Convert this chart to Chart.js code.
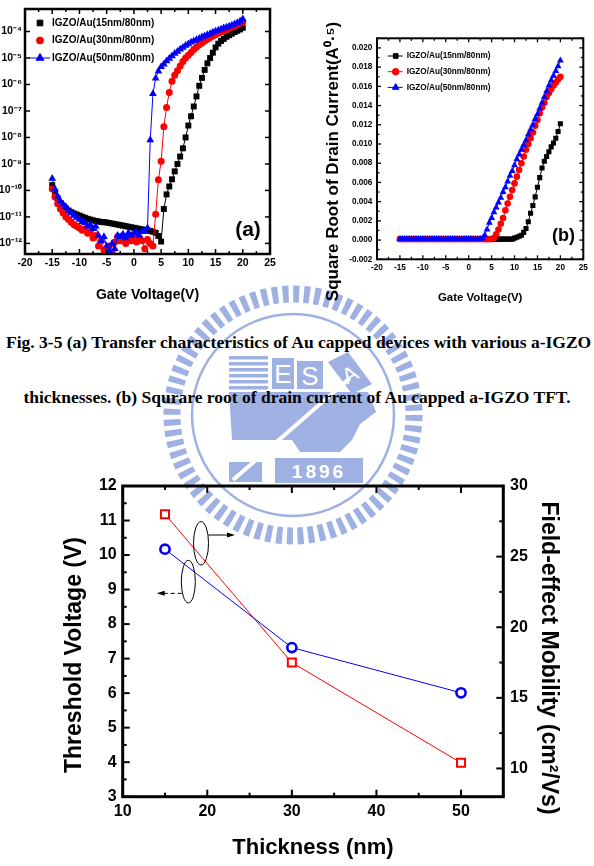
<!DOCTYPE html>
<html><head><meta charset="utf-8">
<script src="https://cdn.jsdelivr.net/npm/chart.js@4.4.1/dist/chart.umd.min.js"></script>
<style>
html,body{margin:0;padding:0;background:#fff;}
#page{position:relative;width:594px;height:866px;overflow:hidden;background:#fff;}
#wm{position:absolute;left:0;top:0;z-index:0}
canvas{position:absolute;z-index:1}
.cap{position:absolute;z-index:2;font-family:'Liberation Serif','Times New Roman',serif;font-weight:bold;font-size:17.5px;line-height:20px;white-space:nowrap;color:#000}
</style></head>
<body>
<div id="page">
<svg id="wm" width="594" height="866">
  <g transform="translate(293,415)" fill="none" stroke="#9fb1e2">
    <circle r="121" stroke-width="17" stroke-dasharray="6 4.559"/>
    <circle r="101" stroke-width="2.5"/>
  </g>
  <g fill="#9fb1e2">
    <rect x="229" y="356" width="39" height="3.5"/>
    <rect x="229" y="362" width="39" height="3.5"/>
    <rect x="229" y="368" width="39" height="3.5"/>
    <rect x="229" y="374" width="39" height="3.5"/>
    <rect x="229" y="380" width="39" height="3.5"/>
    <rect x="229" y="386" width="39" height="3.5"/>
    <rect x="272" y="358" width="22" height="31"/>
    <rect x="297" y="361" width="26" height="28"/>
    <polygon points="328,362 348,352 372,384 352,394"/>
    <polygon points="229,392 368,392 376,412 360,424 352,440 340,452 300,452 292,440 232,440"/>
    <polygon points="229,462 262,462 262,482 229,482"/>
    <rect x="275" y="458" width="88" height="25"/>
    <line x1="233" y1="480" x2="350" y2="378" stroke="#fff" stroke-width="4"/>
  </g>
  <g fill="#fff" font-family="Arial, sans-serif" text-anchor="middle">
    <text x="283" y="383" font-size="26">E</text>
    <text x="310" y="385" font-size="26">S</text>
    <text x="350" y="382" font-size="22" transform="rotate(-30 350 375)">A</text>
    <text x="319" y="478" font-size="19" font-weight="bold" letter-spacing="3">1896</text>
  </g>
</svg>
<canvas id="cA" width="300" height="310" style="left:0;top:0"></canvas>
<canvas id="cB" width="294" height="310" style="left:300px;top:0"></canvas>
<div class="cap" style="left:6px;top:332px">Fig. 3-5 (a) Transfer characteristics of Au capped devices with various a-IGZO</div>
<div class="cap" style="left:0;width:594px;text-align:center;top:387px">thicknesses. (b) Squrare root of drain current of Au capped a-IGZO TFT.</div>
<canvas id="cC" width="594" height="406" style="left:0;top:460px"></canvas>
</div>
<script>
// ---------------- data ----------------
const seriesNames = ['IGZO/Au(15nm/80nm)', 'IGZO/Au(30nm/80nm)', 'IGZO/Au(50nm/80nm)'];
const gateV = [-15,-14.5,-14,-13.5,-13,-12.5,-12,-11.5,-11,-10.5,-10,-9.5,-9,-8.5,-8,-7.5,-7,-6.5,-6,-5.5,-5,-4.5,-4,-3.5,-3,-2.5,-2,-1.5,-1,-0.5,0,0.5,1,1.5,2,2.5,3,3.5,4,4.5,5,5.5,6,6.5,7,7.5,8,8.5,9,9.5,10,10.5,11,11.5,12,12.5,13,13.5,14,14.5,15,15.5,16,16.5,17,17.5,18,18.5,19,19.5,20];
// (a) log10 of drain current (A)
const logId15 = [-9.8,-10.1,-10.3,-10.48,-10.6,-10.68,-10.76,-10.82,-10.87,-10.91,-10.95,-10.99,-11.03,-11.07,-11.1,-11.13,-11.15,-11.17,-11.19,-11.2,-11.21,-11.23,-11.25,-11.27,-11.29,-11.31,-11.33,-11.35,-11.37,-11.39,-11.41,-11.43,-11.45,-11.47,-11.49,-11.51,-11.53,-11.56,-11.6,-11.72,-11.93,
  -10.7,-10.15,-9.85,-9.58,-9.28,-9.0,-8.72,-8.41,-8.0,-7.55,-7.2,-6.83,-6.45,-6.05,-5.75,-5.45,-5.2,-5.0,-4.8,-4.6,-4.46,-4.36,-4.28,-4.2,-4.14,-4.08,-4.02,-3.97,-3.92,-3.86];
const logId30 = [-9.95,-10.25,-10.5,-10.7,-10.85,-11.0,-11.1,-11.2,-11.3,-11.35,-11.42,-11.5,-11.45,-11.62,-11.55,-11.8,-11.7,-12.1,-11.9,-12.25,-12.4,-12.1,-12.35,-11.95,-11.75,-11.9,-11.8,-12.0,-11.78,-11.9,-11.7,-11.95,-11.8,-11.9,-12.2,-11.85,-12.0,-12.1,
  -10.9,-9.6,-8.9,-7.6,-6.87,-6.3,-5.88,-5.65,-5.48,-5.3,-5.13,-5.0,-4.9,-4.79,-4.68,-4.59,-4.5,-4.43,-4.36,-4.29,-4.23,-4.17,-4.12,-4.07,-4.02,-3.97,-3.93,-3.88,-3.84,-3.79,-3.74,-3.69,-3.64];
const logId50 = [-9.55,-9.95,-10.22,-10.4,-10.52,-10.62,-10.75,-10.85,-10.95,-11.02,-11.1,-11.18,-11.22,-11.35,-11.3,-11.45,-11.35,-11.7,-11.9,-11.75,-12.1,-12.3,-12.0,-12.2,-11.7,-11.75,-11.65,-11.8,-11.6,-11.7,-11.62,-11.58,-11.7,-11.55,-11.55,-11.42,
  -8.1,-6.35,-5.76,-5.5,-5.33,-5.24,-5.11,-5.02,-4.92,-4.83,-4.75,-4.67,-4.6,-4.53,-4.47,-4.41,-4.36,-4.31,-4.26,-4.21,-4.17,-4.12,-4.08,-4.03,-3.99,-3.95,-3.91,-3.87,-3.84,-3.8,-3.76,-3.72,-3.67,-3.61,-3.53];
// (b) square root of drain current (A^0.5)
const sqrtId15 = [0.0001,0.0001,0.0001,0.0001,0.0001,0.0001,0.0001,0.0001,0.0001,0.0001,0.0001,0.0001,0.0001,0.0001,0.0001,0.0001,0.0001,0.0001,0.0001,0.0001,0.0001,0.0001,0.0001,0.0001,0.0001,0.0001,0.0001,0.0001,0.0001,0.0001,0.0001,0.0001,0.0001,0.0001,0.0001,0.0001,0.0001,0.0001,0.0001,0.0001,0.0001,0.0001,0.0001,0.0001,0.0001,0.0001,0.0001,0.0001,
  0.0001,0.0001,0.0002,0.0003,0.0004,0.0005,0.0008,0.0012,0.0019,0.0028,0.0036,0.0045,0.0055,0.0065,0.0075,0.0082,0.0087,0.0092,0.0097,0.0101,0.0106,0.0113,0.0121];
const sqrtId30 = [0.0001,0.0001,0.0001,0.0001,0.0001,0.0001,0.0001,0.0001,0.0001,0.0001,0.0001,0.0001,0.0001,0.0001,0.0001,0.0001,0.0001,0.0001,0.0001,0.0001,0.0001,0.0001,0.0001,0.0001,0.0001,0.0001,0.0001,0.0001,0.0001,0.0001,0.0001,0.0001,0.0001,0.0001,0.0001,0.0001,0.0001,0.0001,0.0001,0.0001,
  0.0001,0.0002,0.0006,0.0011,0.0017,0.0023,0.0031,0.0038,0.0045,0.0052,0.0059,0.0066,0.0073,0.008,0.0087,0.0094,0.01,0.0106,0.0112,0.0119,0.0125,0.0132,0.0138,0.0143,0.0149,0.0153,0.0157,0.0161,0.0164,0.0167,0.017];
const sqrtId50 = [0.0001,0.0001,0.0001,0.0001,0.0001,0.0001,0.0001,0.0001,0.0001,0.0001,0.0001,0.0001,0.0001,0.0001,0.0001,0.0001,0.0001,0.0001,0.0001,0.0001,0.0001,0.0001,0.0001,0.0001,0.0001,0.0001,0.0001,0.0001,0.0001,0.0001,0.0001,0.0001,0.0001,0.0001,0.0001,0.0001,
  0.0002,0.0005,0.0011,0.0018,0.0023,0.0029,0.0034,0.0039,0.0044,0.005,0.0055,0.0061,0.0067,0.0072,0.0078,0.0084,0.0089,0.0094,0.0099,0.0104,0.011,0.0115,0.012,0.0126,0.0131,0.0137,0.0143,0.0149,0.0155,0.0161,0.0166,0.0171,0.0176,0.0181,0.0187];
const gateTicks = [-20,-15,-10,-5,0,5,10,15,20,25];
const logTicks = [-12,-11,-10,-9,-8,-7,-6,-5,-4];
const sqrtTicks = [-0.002,0,0.002,0.004,0.006,0.008,0.010,0.012,0.014,0.016,0.018,0.020];
// (c) threshold voltage and mobility vs IGZO thickness
const thickness = [15, 30, 50];
const thresholdV = [10.17, 7.32, 6.01];
const mobility = [28.0, 17.5, 10.4];
const thickTicks = [10, 20, 30, 40, 50];
const vthTicks = [3, 4, 5, 6, 7, 8, 9, 10, 11, 12];
const mobTicks = [10, 15, 20, 25, 30];

// ---------------- helpers ----------------
Chart.defaults.font.family = "Arial, 'Liberation Sans', sans-serif";
Chart.defaults.font.weight = 'bold';
Chart.defaults.color = '#000';
const SUP = {'-':'⁻','0':'⁰','1':'¹','2':'²','3':'³','4':'⁴','5':'⁵','6':'⁶','7':'⁷','8':'⁸','9':'⁹'};
const sup = s => String(s).split('').map(c => SUP[c] || c).join('');
const pts = (xs, ys) => xs.map((x, i) => ({x: x, y: ys[i]}));
const zeroPad = s => { s.paddingTop = 0; s.paddingBottom = 0; s.paddingLeft = 0; s.paddingRight = 0; };
const fitW = w => s => { s.width = w; zeroPad(s); };
const fitH = h => s => { s.height = h; zeroPad(s); };
const setTicks = arr => s => { s.ticks = arr.map(v => ({value: v})); };
function hasFont(name) {
  const c = document.createElement('canvas').getContext('2d');
  const t = 'IGZO/Au(15nm/80nm) 0.012 Gate';
  c.font = '20px monospace'; const w0 = c.measureText(t).width;
  c.font = '20px "' + name + '", monospace'; return Math.abs(c.measureText(t).width - w0) > 0.5;
}
const narrowName = hasFont('Liberation Sans Narrow') ? 'Liberation Sans Narrow' : (hasFont('Arial Narrow') ? 'Arial Narrow' : null);
const NARROW = narrowName ? "'" + narrowName + "', Arial, sans-serif" : "Arial, 'Liberation Sans', sans-serif";
const NK = narrowName ? 1 : 0.82;
const BOLD = 'bold';
const tf = (size, family) => () => ({size: size, weight: BOLD, family: family || "Arial, 'Liberation Sans', sans-serif", lineHeight: 1.2, style: 'normal'});

const framePlugin = {
  id: 'frame',
  afterDatasetsDraw(chart, args, o) {
    const ctx = chart.ctx, a = chart.chartArea;
    ctx.save();
    ctx.strokeStyle = '#000';
    ctx.lineWidth = o.tickWidth || 1.5;
    (o.axes || []).forEach(ax => {
      const sc = chart.scales[ax.id];
      const majors = sc.ticks.map(t => t.value);
      const items = majors.map(v => [v, ax.major]);
      if (ax.minorStep) {
        const n0 = Math.ceil(sc.min / ax.minorStep - 1e-6), n1 = Math.floor(sc.max / ax.minorStep + 1e-6);
        for (let n = n0; n <= n1; n++) {
          const v = n * ax.minorStep;
          if (!majors.some(m => Math.abs(m - v) < 1e-9)) items.push([v, ax.minor]);
        }
      }
      items.forEach(([v, len]) => {
        const p = sc.getPixelForValue(v);
        ax.sides.forEach(side => {
          ctx.beginPath();
          if (side === 'bottom') { ctx.moveTo(p, a.bottom); ctx.lineTo(p, a.bottom - len); }
          if (side === 'top') { ctx.moveTo(p, a.top); ctx.lineTo(p, a.top + len); }
          if (side === 'left') { ctx.moveTo(a.left, p); ctx.lineTo(a.left + len, p); }
          if (side === 'right') { ctx.moveTo(a.right, p); ctx.lineTo(a.right - len, p); }
          ctx.stroke();
        });
      });
    });
    ctx.lineWidth = o.lineWidth || 2;
    ctx.strokeRect(a.left, a.top, a.right - a.left, a.bottom - a.top);
    ctx.restore();
  }
};

const insideLegend = {
  id: 'insideLegend',
  afterDatasetsDraw(chart, args, o) {
    if (!o || !o.items) return;
    const ctx = chart.ctx, a = chart.chartArea;
    ctx.save();
    o.items.forEach((it, i) => {
      const ds = chart.data.datasets[it.ds];
      const y = a.top + o.y + i * o.rowH;
      if (it.line) {
        ctx.strokeStyle = ds.borderColor; ctx.lineWidth = 1;
        ctx.beginPath(); ctx.moveTo(a.left + o.lineX0, y); ctx.lineTo(a.left + o.lineX1, y); ctx.stroke();
      }
      ctx.fillStyle = ds.pointBackgroundColor; ctx.strokeStyle = ds.pointBorderColor; ctx.lineWidth = 1;
      Chart.helpers.drawPoint(ctx, {pointStyle: ds.pointStyle, radius: it.r, borderWidth: 1, rotation: 0}, a.left + o.markX, y);
      ctx.fillStyle = '#000'; ctx.font = o.font; ctx.textBaseline = 'middle'; ctx.textAlign = 'left';
      ctx.fillText(ds.label, a.left + o.textX, y);
    });
    ctx.restore();
  }
};

const freeText = {
  id: 'freeText',
  afterDraw(chart, args, o) {
    const ctx = chart.ctx;
    (o.items || []).forEach(it => {
      ctx.save();
      ctx.translate(it.x, it.y);
      ctx.rotate((it.rot || 0) * Math.PI / 180);
      ctx.font = it.font; ctx.fillStyle = '#000'; ctx.textAlign = 'center'; ctx.textBaseline = 'middle';
      ctx.fillText(it.text, 0, 0);
      ctx.restore();
    });
  }
};

const guideMarks = {
  id: 'guideMarks',
  afterDatasetsDraw(chart, args, o) {
    const ctx = chart.ctx, xs = chart.scales.x, ys = chart.scales.y;
    ctx.save();
    ctx.strokeStyle = '#000'; ctx.fillStyle = '#000'; ctx.lineWidth = 1;
    (o.ellipses || []).forEach(e => {
      ctx.beginPath();
      ctx.ellipse(xs.getPixelForValue(e.x), ys.getPixelForValue(e.y), e.rx, e.ry, 0, 0, 2 * Math.PI);
      ctx.stroke();
    });
    (o.arrows || []).forEach(ar => {
      const x0 = xs.getPixelForValue(ar.x0), x1 = xs.getPixelForValue(ar.x1), y = ys.getPixelForValue(ar.y);
      const dir = Math.sign(x1 - x0);
      ctx.setLineDash(ar.dash || []);
      ctx.beginPath(); ctx.moveTo(x0, y); ctx.lineTo(x1 - dir * 6, y); ctx.stroke();
      ctx.setLineDash([]);
      ctx.beginPath(); ctx.moveTo(x1, y); ctx.lineTo(x1 - dir * 8, y - 2.5); ctx.lineTo(x1 - dir * 8, y + 2.5); ctx.closePath(); ctx.fill();
    });
    ctx.restore();
  }
};

const baseOpts = {responsive: false, animation: false, events: [], plugins: {legend: {display: false}, tooltip: {enabled: false}}};
const noGrid = {display: false, drawTicks: false};

// ---------------- (a) transfer characteristics ----------------
new Chart(document.getElementById('cA'), {
  type: 'line',
  data: {datasets: [
    {label: seriesNames[0], data: pts(gateV, logId15), borderColor: '#000', borderWidth: 1, pointStyle: 'rect', pointRadius: 4.2, pointBorderWidth: 0, pointBackgroundColor: '#000', pointBorderColor: '#000', order: 3},
    {label: seriesNames[1], data: pts(gateV, logId30), borderColor: '#ff0000', borderWidth: 1, pointStyle: 'circle', pointRadius: 3.5, pointBorderWidth: 0, pointBackgroundColor: '#ff0000', pointBorderColor: '#ff0000', order: 2},
    {label: seriesNames[2], data: pts(gateV, logId50), borderColor: '#0000ff', borderWidth: 1, pointStyle: 'triangle', pointRadius: 4.5, pointBorderWidth: 0, pointBackgroundColor: '#0000ff', pointBorderColor: '#0000ff', order: 1}
  ]},
  options: Object.assign({}, baseOpts, {
    layout: {padding: {top: 9, right: 30, left: 0, bottom: 0}},
    plugins: Object.assign({}, baseOpts.plugins, {
      frame: {lineWidth: 2.5, tickWidth: 1.5, axes: [
        {id: 'x', sides: ['bottom', 'top'], major: 5, minor: 3, minorStep: 2.5},
        {id: 'y', sides: ['left', 'right'], major: 5, minor: 3}
      ]},
      insideLegend: {font: "bold 10px Arial, 'Liberation Sans', sans-serif", y: 14, rowH: 17.5, markX: 15, textX: 27, lineX0: 4, lineX1: 25,
        items: [{ds: 0, r: 4}, {ds: 1, r: 3.5}, {ds: 2, r: 4.5, line: true}]},
      freeText: {items: [{text: '(a)', x: 248, y: 230, font: "bold 21px Arial, 'Liberation Sans', sans-serif"}]}
    }),
    scales: {
      x: {type: 'linear', min: -20, max: 25, afterBuildTicks: setTicks(gateTicks), afterFit: fitH(56),
        grid: noGrid, border: {display: false},
        ticks: {font: tf(10.5), padding: 3, maxRotation: 0, autoSkip: false},
        title: {display: true, text: 'Gate Voltage(V)', font: {size: 14, weight: BOLD}, padding: {top: 0, bottom: 6}}},
      y: {type: 'linear', min: -12.4, max: -3.15, afterBuildTicks: setTicks(logTicks), afterFit: fitW(25),
        grid: noGrid, border: {display: false},
        ticks: {font: tf(10.5), padding: 3, autoSkip: false, callback: v => '10' + sup(v)}}
    }
  }),
  plugins: [framePlugin, insideLegend, freeText]
});

// ---------------- (b) square root of drain current ----------------
new Chart(document.getElementById('cB'), {
  type: 'line',
  data: {datasets: [
    {label: seriesNames[0], data: pts(gateV, sqrtId15), borderColor: '#000', borderWidth: 1, pointStyle: 'rect', pointRadius: 3.6, pointBorderWidth: 0, pointBackgroundColor: '#000', pointBorderColor: '#000', order: 3},
    {label: seriesNames[1], data: pts(gateV, sqrtId30), borderColor: '#ff0000', borderWidth: 1, pointStyle: 'circle', pointRadius: 3.3, pointBorderWidth: 0, pointBackgroundColor: '#ff0000', pointBorderColor: '#ff0000', order: 2},
    {label: seriesNames[2], data: pts(gateV, sqrtId50), borderColor: '#0000ff', borderWidth: 1, pointStyle: 'triangle', pointRadius: 4, pointBorderWidth: 0, pointBackgroundColor: '#0000ff', pointBorderColor: '#0000ff', order: 1}
  ]},
  options: Object.assign({}, baseOpts, {
    layout: {padding: {top: 38.3, right: 10.7, left: 0, bottom: 0}},
    plugins: Object.assign({}, baseOpts.plugins, {
      frame: {lineWidth: 2, tickWidth: 1.3, axes: [
        {id: 'x', sides: ['bottom', 'top'], major: 4, minor: 2.5, minorStep: 2.5},
        {id: 'y', sides: ['left', 'right'], major: 4, minor: 2.5, minorStep: 0.001}
      ]},
      insideLegend: {font: 'bold ' + (10 * NK) + 'px ' + NARROW, y: 17.7, rowH: 15.7, markX: 18.7, textX: 29.7, lineX0: 10.7, lineX1: 25.7,
        items: [{ds: 0, r: 3.3, line: true}, {ds: 1, r: 3.3, line: true}, {ds: 2, r: 3.8, line: true}]},
      freeText: {items: [
        {text: '(b)', x: 263.5, y: 236.5, font: "bold 18px Arial, 'Liberation Sans', sans-serif"},
        {text: 'Square Root of Drain Current(A⁰·⁵)', x: 33, y: 161.5, rot: -90, font: "bold 17px Arial, 'Liberation Sans', sans-serif"}
      ]}
    }),
    scales: {
      x: {type: 'linear', min: -20, max: 25, afterBuildTicks: setTicks(gateTicks), afterFit: fitH(50.7),
        grid: noGrid, border: {display: false},
        ticks: {font: tf(10 * NK, NARROW), padding: 3.4, maxRotation: 0, autoSkip: false},
        title: {display: true, text: 'Gate Voltage(V)', font: {size: 14 * NK, weight: BOLD, family: NARROW}, padding: {top: 0, bottom: 5.5}}},
      y: {type: 'linear', min: -0.002, max: 0.021, afterBuildTicks: setTicks(sqrtTicks), afterFit: fitW(77),
        grid: noGrid, border: {display: false},
        ticks: {font: tf(10 * NK, NARROW), padding: 4.6, autoSkip: false, callback: v => v.toFixed(3)}}
    }
  }),
  plugins: [framePlugin, insideLegend, freeText]
});

// ---------------- (c) threshold voltage & mobility vs thickness ----------------
new Chart(document.getElementById('cC'), {
  type: 'line',
  data: {datasets: [
    {label: 'Threshold Voltage (V)', data: pts(thickness, thresholdV), yAxisID: 'y', borderColor: '#0000ff', borderWidth: 1,
      pointStyle: 'circle', pointRadius: 4.6, pointBorderWidth: 2.6, pointBackgroundColor: '#ffffff', pointBorderColor: '#0000ff'},
    {label: 'Field-effect Mobility (cm²/Vs)', data: pts(thickness, mobility), yAxisID: 'y2', borderColor: '#ff0000', borderWidth: 1,
      pointStyle: 'rect', pointRadius: 5.7, pointBorderWidth: 2, pointBackgroundColor: '#ffffff', pointBorderColor: '#ff0000'}
  ]},
  options: Object.assign({}, baseOpts, {
    layout: {padding: {top: 26, right: 0, left: 0, bottom: 0}},
    plugins: Object.assign({}, baseOpts.plugins, {
      frame: {lineWidth: 3, tickWidth: 2, axes: [
        {id: 'x', sides: ['bottom', 'top'], major: 7, minor: 4, minorStep: 5},
        {id: 'y', sides: ['left'], major: 7, minor: 4, minorStep: 0.5},
        {id: 'y2', sides: ['right'], major: 7, minor: 4, minorStep: 2.5}
      ]},
      guideMarks: {
        ellipses: [{x: 19.26, y: 10.34, rx: 7.5, ry: 21.7}, {x: 17.76, y: 9.23, rx: 7, ry: 21.3}],
        arrows: [{x0: 20.12, x1: 23.28, y: 10.58}, {x0: 16.98, x1: 14.02, y: 8.89, dash: [4, 3]}]
      },
      freeText: {items: [
        {text: 'Threshold Voltage (V)', x: 75, y: 195, rot: -90, font: "bold 23px Arial, 'Liberation Sans', sans-serif"},
        {text: 'Field-effect Mobility (cm²/Vs)', x: 548, y: 198, rot: 90, font: "bold 23px Arial, 'Liberation Sans', sans-serif"}
      ]}
    }),
    scales: {
      x: {type: 'linear', min: 10, max: 55, afterBuildTicks: setTicks(thickTicks), afterFit: fitH(69.3),
        grid: noGrid, border: {display: false},
        ticks: {font: tf(16), padding: 5, maxRotation: 0, autoSkip: false},
        title: {display: true, text: 'Thickness (nm)', font: {size: 22, weight: BOLD}, padding: {top: 0, bottom: 5}}},
      y: {type: 'linear', position: 'left', min: 3, max: 12, afterBuildTicks: setTicks(vthTicks), afterFit: fitW(122.7),
        grid: noGrid, border: {display: false},
        ticks: {font: tf(16), padding: 6, autoSkip: false}},
      y2: {type: 'linear', position: 'right', min: 8, max: 30, afterBuildTicks: setTicks(mobTicks), afterFit: fitW(90.7),
        grid: noGrid, border: {display: false},
        ticks: {font: tf(16), padding: 6.7, autoSkip: false}}
    }
  }),
  plugins: [framePlugin, guideMarks, freeText]
});
</script>
</body></html>
